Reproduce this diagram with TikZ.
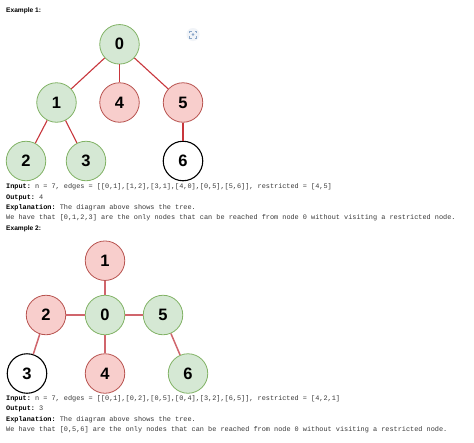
\documentclass[tikz,border=0pt]{standalone}
\usepackage{fontspec}
\usetikzlibrary{calc}
\setmainfont{Liberation Sans}
\setmonofont{Liberation Mono}
\definecolor{gfill}{HTML}{D5E8D4}
\definecolor{gline}{HTML}{82B366}
\definecolor{rfill}{HTML}{F8CECC}
\definecolor{rline}{HTML}{B85450}
\definecolor{edgeA}{HTML}{C8363C}
\definecolor{edgeB}{HTML}{D0656C}
\definecolor{txt}{HTML}{3A3A3A}
\definecolor{icon}{HTML}{8AA6C8}
\begin{document}
\begin{tikzpicture}[x=1pt,y=-1pt,
  vtx/.style={circle,minimum size=39.5pt,inner sep=0pt,line width=0.8pt,
    font=\fontsize{16.5}{16.5}\selectfont\bfseries},
  gv/.style={vtx,fill=gfill,draw=gline},
  rv/.style={vtx,fill=rfill,draw=rline},
  wv/.style={vtx,fill=white,draw=black,line width=1.1pt},
  eA/.style={draw=edgeA,line width=1.1pt},
  eB/.style={draw=edgeB,line width=1.5pt},
  head/.style={anchor=base west,inner sep=0pt,font=\fontsize{6.6}{7}\selectfont\bfseries},
  line/.style={anchor=base west,inner sep=0pt,text=txt,font=\fontsize{6.87}{7}\selectfont\ttfamily}]
\useasboundingbox (0,0) rectangle (474,442);
\fill[white] (0,0) rectangle (474,442);

% Example 1
\node[head] (h1) at (6,12.5) {Example 1:};
\node[gv] (a0) at (119.5,44.3) {0};
\node[gv] (a1) at (56.5,102.5) {1};
\node[rv] (a4) at (119.5,102.5) {4};
\node[rv] (a5) at (183,102.5) {5};
\node[gv] (a2) at (26,161) {2};
\node[gv] (a3) at (86,161) {3};
\node[wv] (a6) at (183,161) {6};
\draw[eA] (a0) -- (a1);
\draw[eA] (a0) -- (a4);
\draw[eA] (a0) -- (a5);
\draw[eA] (a1) -- (a2);
\draw[eA] (a1) -- (a3);
\draw[eA] (a5) -- (a6);

% small icon
\node[circle,fill=icon!12,minimum size=13pt,inner sep=0pt] (ic) at (193,34.5) {};
\fill[icon] (ic.center) circle (1.3pt);
\draw[icon,line width=0.5pt] ($(ic.center)+(-3.5,-1.5)$) -- ++(0,-2) -- ++(2,0);
\draw[icon,line width=0.5pt] ($(ic.center)+(3.5,-1.5)$) -- ++(0,-2) -- ++(-2,0);
\draw[icon,line width=0.5pt] ($(ic.center)+(-3.5,1.5)$) -- ++(0,2) -- ++(2,0);
\draw[icon,line width=0.5pt] ($(ic.center)+(3.5,1.5)$) -- ++(0,2) -- ++(-2,0);

\node[line] (t1) at (6,188.5) {\textbf{\color{black}Input:} n = 7, edges = [[0,1],[1,2],[3,1],[4,0],[0,5],[5,6]], restricted = [4,5]};
\node[line] (t2) at (6,199) {\textbf{\color{black}Output:} 4};
\node[line] (t3) at (6,209.3) {\textbf{\color{black}Explanation:} The diagram above shows the tree.};
\node[line] (t4) at (6,219.6) {We have that [0,1,2,3] are the only nodes that can be reached from node 0 without visiting a restricted node.};

% Example 2
\node[head] (h2) at (6,230.5) {Example 2:};
\node[rv] (b1) at (105,260.7) {1};
\node[rv] (b2) at (46,315) {2};
\node[gv] (b0) at (105,315) {0};
\node[gv] (b5) at (163,315) {5};
\node[wv] (b3) at (27,373.5) {3};
\node[rv] (b4) at (105,373.5) {4};
\node[gv] (b6) at (188,373.5) {6};
\draw[eB] (b0) -- (b1);
\draw[eB] (b0) -- (b2);
\draw[eB] (b0) -- (b5);
\draw[eB] (b0) -- (b4);
\draw[eB] (b2) -- (b3);
\draw[eB] (b5) -- (b6);

\node[line] (u1) at (6,400.5) {\textbf{\color{black}Input:} n = 7, edges = [[0,1],[0,2],[0,5],[0,4],[3,2],[6,5]], restricted = [4,2,1]};
\node[line] (u2) at (6,410.8) {\textbf{\color{black}Output:} 3};
\node[line] (u3) at (6,421.2) {\textbf{\color{black}Explanation:} The diagram above shows the tree.};
\node[line] (u4) at (6,431.5) {We have that [0,5,6] are the only nodes that can be reached from node 0 without visiting a restricted node.};
\end{tikzpicture}
\end{document}
